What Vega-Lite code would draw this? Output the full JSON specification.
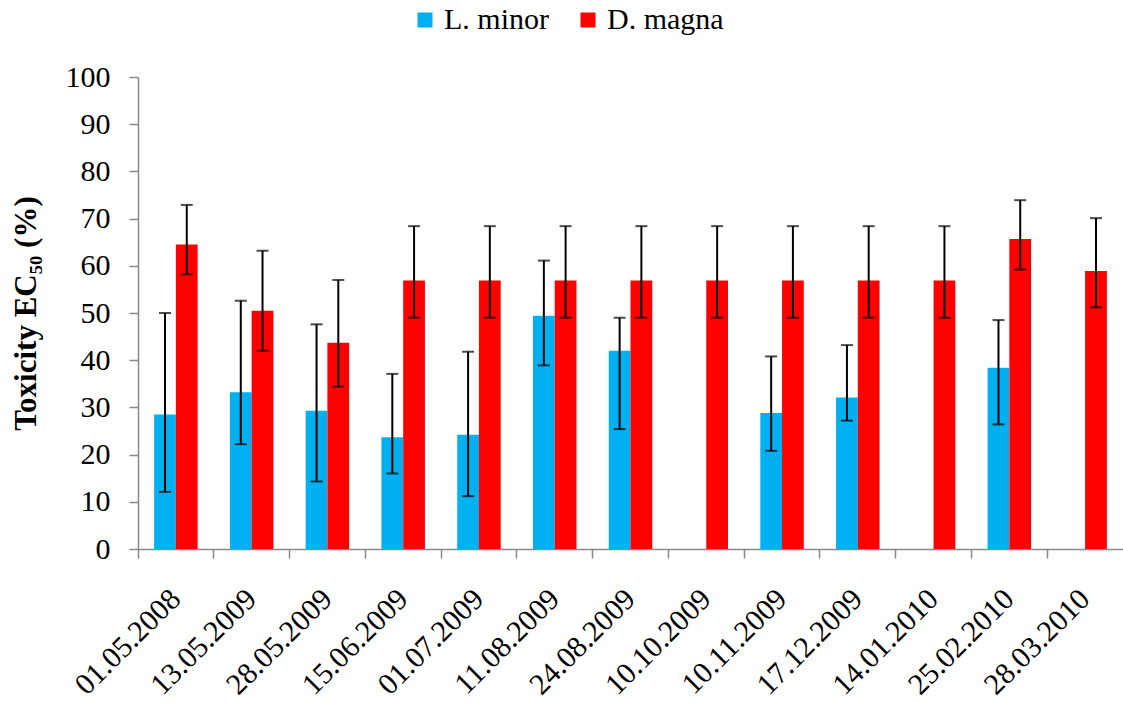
{
  "$schema": "https://vega.github.io/schema/vega-lite/v6.json",
  "width": 985,
  "height": 472,
  "autosize": {"type": "none"},
  "padding": {"left": 138, "top": 77, "right": 0, "bottom": 153},
  "config": {
    "view": {"stroke": null},
    "font": "Liberation Serif",
    "axis": {"grid": false, "labelFont": "Liberation Serif", "titleFont": "Liberation Serif", "labelColor": "black", "titleColor": "black", "domainColor": "#898989", "tickColor": "#898989", "domainWidth": 1.5, "tickWidth": 1.5},
    "legend": {"labelFont": "Liberation Serif"}
  },
  "data": {
    "values": [
      {"date": "01.05.2008", "species": "L. minor", "value": 28.5, "lo": 12.1, "hi": 50.0},
      {"date": "01.05.2008", "species": "D. magna", "value": 64.5, "lo": 58.2, "hi": 72.9},
      {"date": "13.05.2009", "species": "L. minor", "value": 33.2, "lo": 22.2, "hi": 52.6},
      {"date": "13.05.2009", "species": "D. magna", "value": 50.5, "lo": 42.0, "hi": 63.2},
      {"date": "28.05.2009", "species": "L. minor", "value": 29.3, "lo": 14.3, "hi": 47.6},
      {"date": "28.05.2009", "species": "D. magna", "value": 43.7, "lo": 34.4, "hi": 57.0},
      {"date": "15.06.2009", "species": "L. minor", "value": 23.7, "lo": 16.0, "hi": 37.1},
      {"date": "15.06.2009", "species": "D. magna", "value": 56.9, "lo": 49.0, "hi": 68.4},
      {"date": "01.07.2009", "species": "L. minor", "value": 24.2, "lo": 11.2, "hi": 41.8},
      {"date": "01.07.2009", "species": "D. magna", "value": 56.9, "lo": 49.0, "hi": 68.4},
      {"date": "11.08.2009", "species": "L. minor", "value": 49.4, "lo": 38.9, "hi": 61.1},
      {"date": "11.08.2009", "species": "D. magna", "value": 56.9, "lo": 49.0, "hi": 68.4},
      {"date": "24.08.2009", "species": "L. minor", "value": 42.0, "lo": 25.4, "hi": 49.0},
      {"date": "24.08.2009", "species": "D. magna", "value": 56.9, "lo": 49.0, "hi": 68.4},
      {"date": "10.10.2009", "species": "D. magna", "value": 56.9, "lo": 49.0, "hi": 68.4},
      {"date": "10.11.2009", "species": "L. minor", "value": 28.8, "lo": 20.8, "hi": 40.8},
      {"date": "10.11.2009", "species": "D. magna", "value": 56.9, "lo": 49.0, "hi": 68.4},
      {"date": "17.12.2009", "species": "L. minor", "value": 32.1, "lo": 27.2, "hi": 43.2},
      {"date": "17.12.2009", "species": "D. magna", "value": 56.9, "lo": 49.0, "hi": 68.4},
      {"date": "14.01.2010", "species": "D. magna", "value": 56.9, "lo": 49.0, "hi": 68.4},
      {"date": "25.02.2010", "species": "L. minor", "value": 38.4, "lo": 26.4, "hi": 48.5},
      {"date": "25.02.2010", "species": "D. magna", "value": 65.7, "lo": 59.2, "hi": 73.9},
      {"date": "28.03.2010", "species": "D. magna", "value": 58.9, "lo": 51.2, "hi": 70.1}
    ]
  },
  "layer": [
    {
      "mark": {"type": "bar"},
      "encoding": {
        "x": {
          "field": "date", "type": "nominal", "sort": null,
          "scale": {"paddingInner": 0, "paddingOuter": 0},
          "axis": {"orient": "bottom", "title": null, "domain": false, "ticks": false, "labelAngle": -45, "labelAlign": "right", "labelBaseline": "middle", "labelFont": "Liberation Serif", "labelFontSize": 30, "labelPadding": 45, "labelOverlap": false}
        },
        "xOffset": {"field": "species", "type": "nominal", "scale": {"domain": ["L. minor", "D. magna"], "paddingInner": 0, "paddingOuter": 0.742}},
        "y": {
          "field": "value", "type": "quantitative", "title": "Toxicity EC₅₀ (%)",
          "scale": {"domain": [0, 100], "nice": false},
          "axis": {"values": [0, 10, 20, 30, 40, 50, 60, 70, 80, 90, 100], "tickSize": 9, "labelFont": "Liberation Serif", "labelFontSize": 30, "labelPadding": 19, "titleFontSize": 31, "titleFontWeight": "bold", "titleBaseline": "middle", "titleX": -112, "titleY": 236}
        },
        "color": {
          "field": "species", "type": "nominal",
          "scale": {"domain": ["L. minor", "D. magna"], "range": ["#00B0F0", "#FF0000"]},
          "legend": {"title": null, "orient": "none", "direction": "horizontal", "legendX": 272, "legendY": -72, "symbolType": "square", "symbolSize": 225, "symbolStrokeWidth": 0, "labelFont": "Liberation Serif", "labelFontSize": 30, "labelColor": "black", "labelOffset": 4, "columnPadding": 24}
        }
      }
    },
    {
      "mark": {"type": "rule", "color": "black", "strokeWidth": 2},
      "encoding": {
        "x": {
          "field": "date", "type": "nominal", "sort": null,
          "axis": {"orient": "bottom", "title": null, "labels": false, "domain": true, "ticks": true, "tickSize": 9, "bandPosition": 0}
        },
        "xOffset": {"field": "species", "type": "nominal"},
        "y": {"field": "lo", "type": "quantitative", "title": "Toxicity EC₅₀ (%)"},
        "y2": {"field": "hi"}
      }
    },
    {
      "mark": {"type": "tick", "color": "black", "size": 12, "thickness": 2},
      "encoding": {
        "x": {"field": "date", "type": "nominal", "sort": null, "axis": null},
        "xOffset": {"field": "species", "type": "nominal"},
        "y": {"field": "lo", "type": "quantitative", "title": "Toxicity EC₅₀ (%)"}
      }
    },
    {
      "mark": {"type": "tick", "color": "black", "size": 12, "thickness": 2},
      "encoding": {
        "x": {"field": "date", "type": "nominal", "sort": null, "axis": null},
        "xOffset": {"field": "species", "type": "nominal"},
        "y": {"field": "hi", "type": "quantitative", "title": "Toxicity EC₅₀ (%)"}
      }
    }
  ],
  "resolve": {"axis": {"x": "independent"}}
}
